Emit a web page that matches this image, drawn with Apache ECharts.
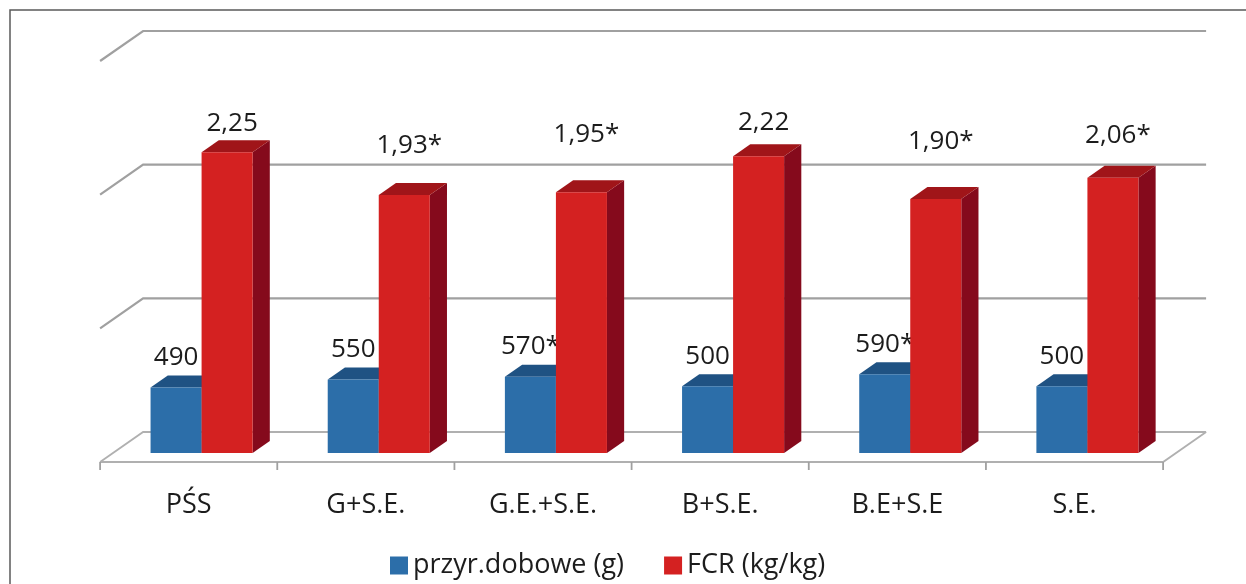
<!DOCTYPE html>
<html>
<head>
<meta charset="utf-8">
<title>Przyrosty dobowe i FCR</title>
<script src="https://cdn.jsdelivr.net/npm/echarts@6/dist/echarts.min.js"></script>
<style>
  html, body { margin: 0; padding: 0; background: #ffffff; }
  #chart { width: 1246px; height: 584px; }
</style>
</head>
<body>
<div id="chart"></div>
<script>
// Groups and measured values
const categories = ['PŚS', 'G+S.E.', 'G.E.+S.E.', 'B+S.E.', 'B.E+S.E', 'S.E.'];
const dailyGain = [490, 550, 570, 500, 590, 500];          // przyr. dobowe (g)
const fcr = [2.25, 1.93, 1.95, 2.22, 1.90, 2.06];          // FCR (kg/kg)
const gainSignificant = [false, false, true, false, true, false];
const fcrSignificant = [false, true, true, false, true, true];
const gridValues = [0, 1, 2, 3];                           // FCR scale gridlines
const seriesNames = ['przyr.dobowe (g)', 'FCR (kg/kg)'];

// Pseudo-3D geometry: floor depth vector, bar placement inside the depth
const DEPTH = [43, -30];
const BAR_FRONT = 0.3;
const BAR_DEPTH = 0.4;
const BAR_WIDTH_RATIO = 0.288;

const FONT = '"Open Sans", "Noto Sans", sans-serif';
const TEXT_COLOR = '#1c1c1c';

const palette = {
  gain: { front: '#2C6EA9', top: '#1F5283', side: '#1A4670' },
  fcr:  { front: '#D42121', top: '#A01519', side: '#850A1C' }
};

// Extra lift of the FCR value labels above each column
const fcrLabelLift = [29, 49, 58, 34, 57, 42];
const gainLabelLift = [30, 30, 30, 30, 30, 30];

function fmt(v, decimals, sig) {
  const s = v.toFixed(decimals).replace('.', ',');
  return sig ? s + '*' : s;
}

const backOff = [DEPTH[0] * (1 - BAR_FRONT), DEPTH[1] * (1 - BAR_FRONT)];
const floorOff = [-DEPTH[0] * BAR_FRONT, -DEPTH[1] * BAR_FRONT];

// Walls: gridlines on the back wall, left-side diagonals, and the floor
function renderWalls(params, api) {
  const v = api.value(1);
  const catW = api.size([1, 0])[0];
  const first = api.coord([0, v]);
  const last = api.coord([categories.length - 1, v]);
  const leftX = first[0] - catW / 2;
  const rightX = last[0] + catW / 2;
  const y = first[1];
  const gridStyle = { stroke: '#a0a0a0', lineWidth: 2.2, fill: null };
  const floorStyle = { stroke: '#b0b0b0', lineWidth: 1.8, fill: null };
  const children = [];
  const st = v === 0 ? floorStyle : gridStyle;
  children.push({
    type: 'polyline',
    shape: { points: [
      [leftX + floorOff[0], y + floorOff[1]],
      [leftX + backOff[0], y + backOff[1]],
      [rightX + backOff[0], y + backOff[1]]
    ] },
    style: st
  });
  if (v === 0) {
    children.push({
      type: 'polyline',
      shape: { points: [
        [leftX + floorOff[0], y + floorOff[1]],
        [rightX + floorOff[0], y + floorOff[1]],
        [rightX + backOff[0], y + backOff[1]]
      ] },
      style: floorStyle
    });
    for (let i = 0; i <= categories.length; i++) {
      const bx = leftX + i * catW + floorOff[0];
      children.push({
        type: 'line',
        shape: { x1: bx, y1: y + floorOff[1], x2: bx, y2: y + floorOff[1] + 8 },
        style: { stroke: '#a0a0a0', lineWidth: 1.8 }
      });
    }
    categories.forEach(function (c, i) {
      children.push({
        type: 'text',
        style: {
          text: c,
          x: leftX + (i + 0.5) * catW + floorOff[0],
          y: y + 52,
          align: 'center',
          verticalAlign: 'middle',
          font: '27px ' + FONT,
          fill: TEXT_COLOR
        }
      });
    });
  }
  return { type: 'group', children: children };
}

function makeBarRenderer(colors, side, labels, lifts, labelDx) {
  return function (params, api) {
    const i = api.value(0);
    const top = api.coord([i, api.value(1)]);
    const base = api.coord([i, 0]);
    const catW = api.size([1, 0])[0];
    const w = catW * BAR_WIDTH_RATIO;
    const L = side < 0 ? top[0] - w : top[0];
    const R = L + w;
    const T = top[1];
    const B = base[1];
    const dx = DEPTH[0] * BAR_DEPTH;
    const dy = DEPTH[1] * BAR_DEPTH;
    return {
      type: 'group',
      children: [
        {
          type: 'polygon',
          shape: { points: [[R, T], [R + dx, T + dy], [R + dx, B + dy], [R, B]] },
          style: { fill: colors.side }
        },
        {
          type: 'polygon',
          shape: { points: [[L, T], [R, T], [R + dx, T + dy], [L + dx, T + dy]] },
          style: { fill: colors.top }
        },
        {
          type: 'rect',
          shape: { x: L, y: T, width: w, height: B - T },
          style: { fill: colors.front }
        },
        {
          type: 'text',
          style: {
            text: labels[i],
            x: (L + R) / 2 + labelDx,
            y: T - lifts[i],
            align: 'center',
            verticalAlign: 'middle',
            font: '26px ' + FONT,
            fill: TEXT_COLOR
          }
        }
      ]
    };
  };
}

const gainLabels = dailyGain.map(function (v, i) { return fmt(v, 0, gainSignificant[i]); });
const fcrLabels = fcr.map(function (v, i) { return fmt(v, 2, fcrSignificant[i]); });

const chart = echarts.init(document.getElementById('chart'), null, { renderer: 'canvas' });

chart.setOption({
  backgroundColor: '#ffffff',
  animation: false,
  graphic: [{
    type: 'rect',
    shape: { x: 10, y: 10, width: 1400, height: 700 },
    style: { fill: null, stroke: '#5a5a5a', lineWidth: 1.5 },
    z: -10
  }],
  grid: { left: 113, right: 70, top: 52, bottom: 131 },
  xAxis: {
    type: 'category',
    data: categories,
    show: false
  },
  yAxis: [
    { type: 'value', min: 0, max: 3, interval: 1, show: false },
    { type: 'value', min: 0, max: 3000, interval: 1000, show: false }
  ],
  legend: {
    left: 385,
    top: 547,
    icon: 'rect',
    itemWidth: 18,
    itemHeight: 18,
    itemGap: 40,
    data: seriesNames,
    textStyle: { fontFamily: FONT, fontSize: 27, color: TEXT_COLOR }
  },
  series: [
    {
      type: 'custom',
      name: 'walls',
      silent: true,
      clip: false,
      z: 1,
      xAxisIndex: 0,
      yAxisIndex: 0,
      encode: { x: 0, y: 1 },
      data: gridValues.map(function (v) { return [0, v]; }),
      renderItem: renderWalls
    },
    {
      type: 'custom',
      name: seriesNames[0],
      clip: false,
      z: 2,
      xAxisIndex: 0,
      yAxisIndex: 1,
      itemStyle: { color: palette.gain.front },
      encode: { x: 0, y: 1 },
      data: dailyGain.map(function (v, i) { return [i, v]; }),
      renderItem: makeBarRenderer(palette.gain, -1, gainLabels, gainLabelLift, 0)
    },
    {
      type: 'custom',
      name: seriesNames[1],
      clip: false,
      z: 3,
      xAxisIndex: 0,
      yAxisIndex: 0,
      itemStyle: { color: palette.fcr.front },
      encode: { x: 0, y: 1 },
      data: fcr.map(function (v, i) { return [i, v]; }),
      renderItem: makeBarRenderer(palette.fcr, 1, fcrLabels, fcrLabelLift, 5)
    }
  ]
});
</script>
</body>
</html>
